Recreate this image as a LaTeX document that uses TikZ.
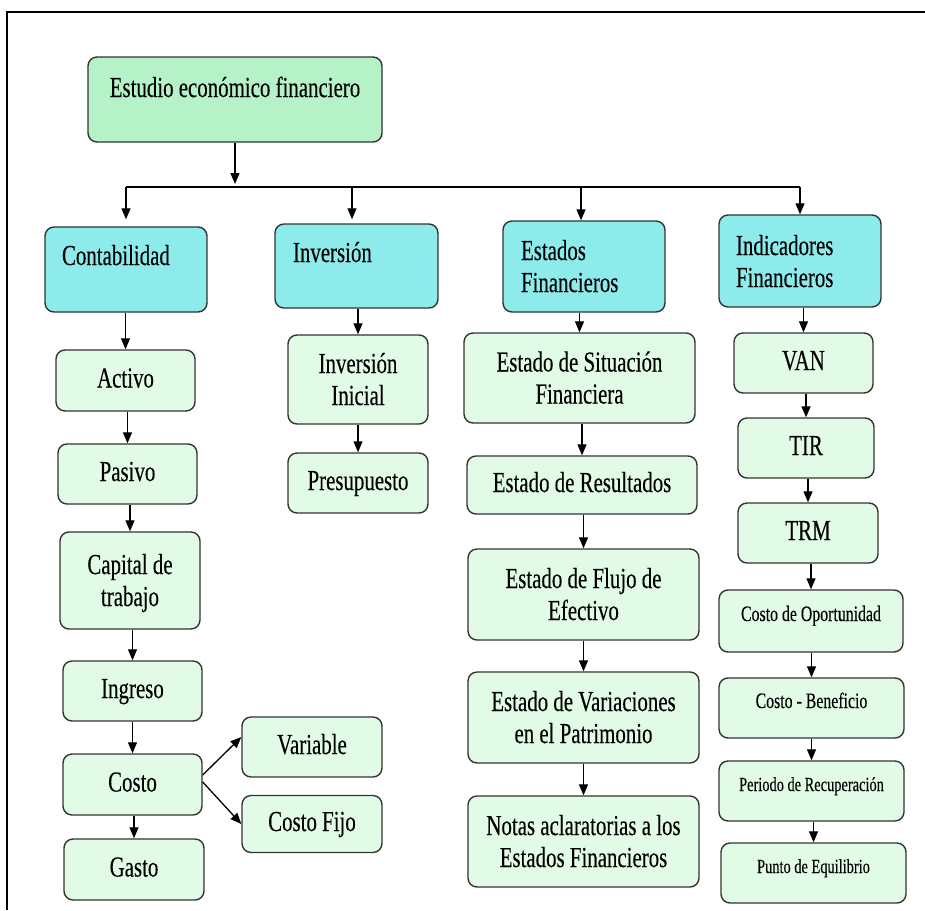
\documentclass[tikz,border=0pt]{standalone}
\usepackage{fontspec}
\setmainfont[FakeStretch=0.72,FakeBold=0.2]{Liberation Serif}
\usetikzlibrary{arrows.meta}
\definecolor{rootgreen}{HTML}{B5F2C8}
\definecolor{headcyan}{HTML}{8DEBEB}
\definecolor{itemgreen}{HTML}{E2FBE6}
\definecolor{boxline}{HTML}{333333}

\begin{document}
\begin{tikzpicture}[x=1pt,y=-1pt,
  box/.style={draw=boxline, line width=1.4pt, rounded corners=9pt, inner sep=0pt},
  bigfont/.style={font=\fontsize{29}{32}\selectfont},
  rootbox/.style={box, bigfont, fill=rootgreen, text height=40pt, text depth=45pt},
  headbox/.style={box, bigfont, fill=headcyan, align=left},
  item/.style={box, bigfont, fill=itemgreen, align=center, text height=20pt, text depth=6pt},
  itemtwo/.style={box, bigfont, fill=itemgreen, align=center, text height=56pt, text depth=5pt},
  itemsmall/.style={box, fill=itemgreen, align=center, text height=15pt, text depth=15pt},
  arr/.style={-{Triangle[length=11pt,width=9pt]}, line width=1.3pt},
  link/.style={line width=1.3pt}
]
\useasboundingbox (0,0) rectangle (925,910);

% page frame
\draw[line width=1.6pt] (7,910) -- (7,12) -- (925,12);

% root
\node[rootbox, minimum width=294pt] (root) at (235,99.5) {Estudio económico financiero};

% main branches
\node[headbox, text width=128pt, inner xsep=17pt, text height=38pt, text depth=47pt] (conta) at (126,269.5) {Contabilidad};
\node[headbox, text width=127pt, inner xsep=18pt, text height=38pt, text depth=46pt] (inver) at (356.5,266) {Inversión};
\node[headbox, text width=126pt, inner xsep=18pt, text height=39pt, text depth=52pt] (estf) at (584,266.5) {Estados\\Financieros};
\node[headbox, text width=128pt, inner xsep=17pt, text height=40pt, text depth=52pt] (indf) at (800,261) {Indicadores\\Financieros};

% Contabilidad
\node[item, minimum width=139pt, minimum height=61pt] (activo) at (125.5,380.5) {Activo};
\node[item, minimum width=139pt, minimum height=60pt] (pasivo) at (127.5,474) {Pasivo};
\node[itemtwo, minimum width=140pt, minimum height=97pt] (capital) at (130,580.5) {Capital de\\trabajo};
\node[item, minimum width=139pt, minimum height=60pt] (ingreso) at (132.5,691) {Ingreso};
\node[item, minimum width=139pt, minimum height=61pt] (costo) at (132.5,784.5) {Costo};
\node[item, minimum width=140pt, minimum height=61pt] (gasto) at (134,869.5) {Gasto};
\node[item, minimum width=140pt, minimum height=60pt] (variable) at (312,747) {Variable};
\node[item, minimum width=140pt, minimum height=57pt] (fijo) at (312,824) {Costo Fijo};

% Inversión
\node[itemtwo, minimum width=140pt, minimum height=89pt] (inicial) at (358,379.5) {Inversión\\Inicial};
\node[item, minimum width=140pt, minimum height=60pt] (presup) at (358,483) {Presupuesto};

% Estados Financieros
\node[itemtwo, minimum width=231pt, minimum height=90pt] (esf) at (579.5,378) {Estado de Situación\\Financiera};
\node[item, minimum width=230pt, minimum height=58pt] (er) at (582,485) {Estado de Resultados};
\node[itemtwo, minimum width=231pt, minimum height=91pt] (efe) at (583.5,594.5) {Estado de Flujo de\\Efectivo};
\node[itemtwo, minimum width=231pt, minimum height=91pt] (evp) at (583.5,717.5) {Estado de Variaciones\\en el Patrimonio};
\node[itemtwo, minimum width=231pt, minimum height=91pt] (notas) at (583.5,841.5) {Notas aclaratorias a los\\Estados Financieros};

% Indicadores Financieros
\node[item, minimum width=139pt, minimum height=60pt] (van) at (803.5,363) {VAN};
\node[item, minimum width=136pt, minimum height=60pt] (tir) at (806,448) {TIR};
\node[item, minimum width=140pt, minimum height=60pt] (trm) at (808,533) {TRM};
\node[itemsmall, font=\fontsize{22}{24}\selectfont, minimum width=184pt, minimum height=62pt] (cdo) at (811,621) {Costo de Oportunidad};
\node[itemsmall, font=\fontsize{22}{24}\selectfont, minimum width=185pt, minimum height=60pt] (cb) at (811.5,708) {Costo - Beneficio};
\node[itemsmall, font=\fontsize{20}{24}\selectfont, minimum width=185pt, minimum height=60pt] (pr) at (811.5,791) {Periodo de Recuperación};
\node[itemsmall, font=\fontsize{20}{24}\selectfont, minimum width=185pt, minimum height=60pt] (pe) at (813.5,873) {Punto de Equilibrio};

% distribution bar under the root
\coordinate (bus) at (235,187);
\draw[arr, shorten >=3pt] (root.south) -- (root.south |- bus);
\draw[link] (conta.north |- bus) -- (indf.north |- bus);
\draw[arr, shorten >=7pt] (conta.north |- bus) -- (conta.north);
\draw[arr, shorten >=4pt] ([xshift=-4.5pt]inver.north |- bus) -- ([xshift=-4.5pt]inver.north);
\draw[arr] ([xshift=-3pt]estf.north |- bus) -- ([xshift=-3pt]estf.north);
\draw[arr] (indf.north |- bus) -- (indf.north);

% vertical chains
\foreach \a/\b in {conta/activo, activo/pasivo, pasivo/capital, capital/ingreso,
                   ingreso/costo, costo/gasto, inver/inicial, inicial/presup,
                   estf/esf, esf/er, er/efe, efe/evp, evp/notas,
                   indf/van, van/tir, tir/trm, trm/cdo, cdo/cb, cb/pr, pr/pe}
  \draw[arr] (\a.south -| \b.north) -- (\b.north);

% cost split
\draw[arr] ([yshift=9.5pt]costo.east) -- ([yshift=10pt]variable.west);
\draw[arr] ([yshift=2.5pt]costo.east) -- (fijo.west);
\end{tikzpicture}
\end{document}
